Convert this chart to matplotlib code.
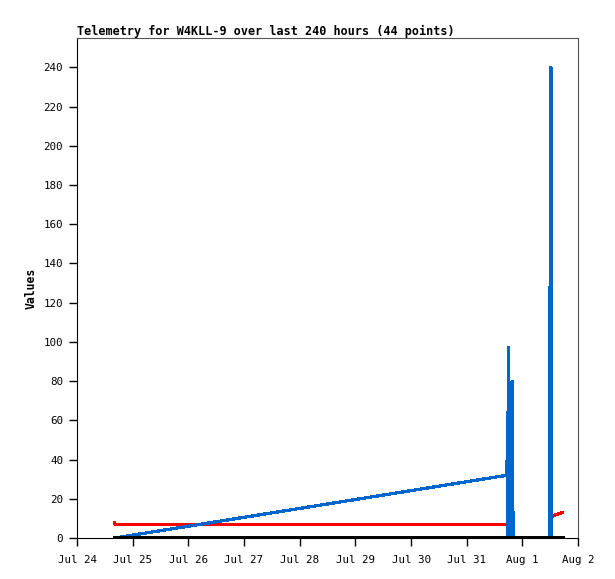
import numpy as np
import pandas as pd
import matplotlib
matplotlib.use("Agg")
import matplotlib.pyplot as plt
import matplotlib.dates as mdates
from matplotlib.ticker import FuncFormatter

title = "Telemetry for W4KLL-9 over last 240 hours (44 points)"

blue_t = ["2024-07-24 16:15", "2024-07-31 17:25", "2024-07-31 17:30", "2024-07-31 17:50",
          "2024-07-31 18:05", "2024-07-31 18:30", "2024-07-31 18:45", "2024-07-31 19:10",
          "2024-07-31 19:35", "2024-07-31 20:00", "2024-08-01 11:35", "2024-08-01 11:40",
          "2024-08-01 12:00", "2024-08-01 12:20", "2024-08-01 12:35"]
blue_v = [0, 32, 64, 0, 97, 0, 56, 0, 80, 0, 0, 128, 0, 240, 0]

red_t = ["2024-07-24 16:15", "2024-07-24 16:25", "2024-07-31 18:40", "2024-07-31 18:50",
         "2024-08-01 12:20", "2024-08-01 12:30", "2024-08-01 17:15"]
red_v = [8, 7, 7, 0, 0, 11, 13]

black_t = ["2024-07-24 16:15", "2024-08-01 17:15"]
black_v = [0, 0]

yticks = list(range(0, 241, 20))

font = "DejaVu Sans Mono"

fig = plt.figure(figsize=(6.15, 5.79), dpi=100)
ax = fig.add_axes([77 / 615, 41 / 579, 501 / 615, 500 / 579])

ax.plot(pd.to_datetime(red_t), red_v, color="#ff0000", lw=1.6, zorder=2, antialiased=False)
ax.plot(pd.to_datetime(blue_t), blue_v, color="#0066cc", lw=1.6, zorder=3, antialiased=False)
ax.plot(pd.to_datetime(black_t), black_v, color="#000000", lw=2.3, zorder=4, antialiased=False)

ax.set_xlim(pd.Timestamp("2024-07-24"), pd.Timestamp("2024-08-02"))
ax.set_ylim(0, 255)
ax.set_yticks(yticks)
ax.xaxis.set_major_locator(mdates.DayLocator())
ax.xaxis.set_major_formatter(FuncFormatter(lambda x, p: (lambda d: f"{d:%b} {d.day}")(mdates.num2date(x))))

ax.tick_params(direction="out", length=6, width=1, labelsize=7.8, colors="black", pad=4)
for lab in ax.get_xticklabels() + ax.get_yticklabels():
    lab.set_family(font)
ax.tick_params(axis="x", pad=6)

for s in ["top", "right"]:
    ax.spines[s].set_color("#555555")
for s in ["left", "bottom"]:
    ax.spines[s].set_color("black")

ax.set_ylabel("Values", family=font, fontweight="bold", fontsize=8.3)
ax.set_title(title, family=font, fontweight="bold", fontsize=8.45, loc="left", pad=2)

fig.savefig("out.png", dpi=100)
